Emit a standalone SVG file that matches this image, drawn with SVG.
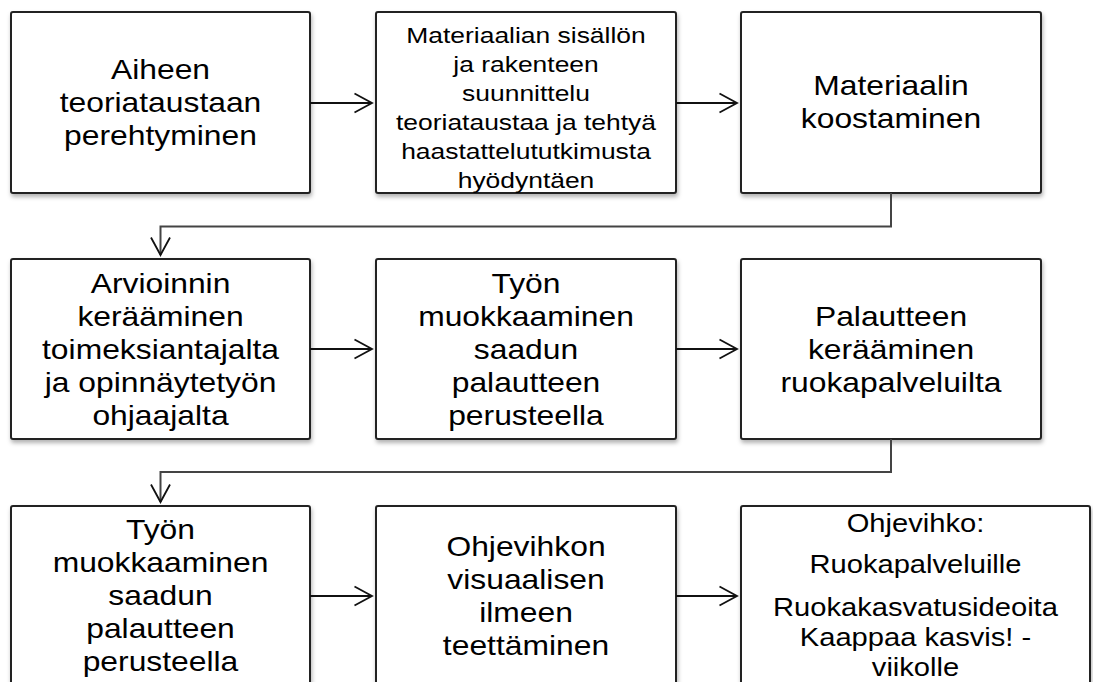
<svg xmlns="http://www.w3.org/2000/svg" width="1093" height="682" viewBox="0 0 1093 682">
<defs>
<filter id="sh" x="-5%" y="-5%" width="115%" height="120%">
<feDropShadow dx="1" dy="3" stdDeviation="2.2" flood-color="#000" flood-opacity="0.3"/>
</filter>
<marker id="arr" markerUnits="userSpaceOnUse" markerWidth="22" markerHeight="24" refX="19" refY="11" orient="auto">
<path d="M1.5,1.5 L19,11 L1.5,20.5" fill="none" stroke="#111" stroke-width="1.8"/>
</marker>
</defs>
<style>
.box{fill:#fff;stroke:#222;stroke-width:2;filter:url(#sh)}
.t{font-family:"Liberation Sans",Arial,sans-serif;font-size:27.2px;fill:#000;text-anchor:middle}
.s{font-size:22.6px}
.m{font-size:24.9px}
.c{fill:none;stroke:#111;stroke-width:1.8}
.g{fill:none;stroke:#444;stroke-width:2}
</style>
<rect width="1093" height="682" fill="#fff"/>
<g id="n1"><rect class="box" x="11" y="12" width="299" height="181" rx="2"/>
<text class="t" transform="translate(160.5 0) scale(1.17 1)"><tspan x="0" y="79.5">Aiheen</tspan><tspan x="0" y="112.5">teoriataustaan</tspan><tspan x="0" y="145.5">perehtyminen</tspan></text></g>
<g id="n2"><rect class="box" x="376" y="12" width="300" height="181" rx="2"/>
<text class="t s" transform="translate(526 0) scale(1.17 1)"><tspan x="0" y="43">Materiaalian sisällön</tspan><tspan x="0" y="72">ja rakenteen</tspan><tspan x="0" y="101">suunnittelu</tspan><tspan x="0" y="130">teoriataustaa ja tehtyä</tspan><tspan x="0" y="159">haastattelututkimusta</tspan><tspan x="0" y="188">hyödyntäen</tspan></text></g>
<g id="n3"><rect class="box" x="741" y="12" width="300" height="181" rx="2"/>
<text class="t" transform="translate(891 0) scale(1.17 1)"><tspan x="0" y="95.5">Materiaalin</tspan><tspan x="0" y="128.5">koostaminen</tspan></text></g>
<g id="n4"><rect class="box" x="11" y="259" width="299" height="180" rx="2"/>
<text class="t" transform="translate(160.5 0) scale(1.17 1)"><tspan x="0" y="293">Arvioinnin</tspan><tspan x="0" y="326">kerääminen</tspan><tspan x="0" y="359">toimeksiantajalta</tspan><tspan x="0" y="392">ja opinnäytetyön</tspan><tspan x="0" y="425">ohjaajalta</tspan></text></g>
<g id="n5"><rect class="box" x="376" y="259" width="300" height="180" rx="2"/>
<text class="t" transform="translate(526 0) scale(1.17 1)"><tspan x="0" y="293">Työn</tspan><tspan x="0" y="326">muokkaaminen</tspan><tspan x="0" y="359">saadun</tspan><tspan x="0" y="392">palautteen</tspan><tspan x="0" y="425">perusteella</tspan></text></g>
<g id="n6"><rect class="box" x="741" y="259" width="300" height="180" rx="2"/>
<text class="t" transform="translate(891 0) scale(1.17 1)"><tspan x="0" y="326">Palautteen</tspan><tspan x="0" y="359">kerääminen</tspan><tspan x="0" y="392">ruokapalveluilta</tspan></text></g>
<g id="n7"><rect class="box" x="11" y="506" width="299" height="182" rx="2"/>
<text class="t" transform="translate(160.5 0) scale(1.17 1)"><tspan x="0" y="539.5">Työn</tspan><tspan x="0" y="572.5">muokkaaminen</tspan><tspan x="0" y="605.5">saadun</tspan><tspan x="0" y="638.5">palautteen</tspan><tspan x="0" y="671.5">perusteella</tspan></text></g>
<g id="n8"><rect class="box" x="376" y="506" width="300" height="182" rx="2"/>
<text class="t" transform="translate(526 0) scale(1.17 1)"><tspan x="0" y="556">Ohjevihkon</tspan><tspan x="0" y="589">visuaalisen</tspan><tspan x="0" y="622">ilmeen</tspan><tspan x="0" y="655">teettäminen</tspan></text></g>
<g id="n9"><rect class="box" x="741" y="506" width="349" height="182" rx="2"/>
<text class="t m" transform="translate(915.5 0) scale(1.17 1)"><tspan x="0" y="532">Ohjevihko:</tspan><tspan x="0" y="573">Ruokapalveluille</tspan><tspan x="0" y="616.5">Ruokakasvatusideoita</tspan><tspan x="0" y="646.5">Kaappaa kasvis! -</tspan><tspan x="0" y="676.5">viikolle</tspan></text></g>
<g id="connectors">
<line class="c" x1="310" y1="103" x2="372" y2="103" marker-end="url(#arr)"/>
<line class="c" x1="676" y1="103" x2="737" y2="103" marker-end="url(#arr)"/>
<line class="c" x1="310" y1="349" x2="372" y2="349" marker-end="url(#arr)"/>
<line class="c" x1="676" y1="349" x2="737" y2="349" marker-end="url(#arr)"/>
<line class="c" x1="310" y1="596" x2="372" y2="596" marker-end="url(#arr)"/>
<line class="c" x1="676" y1="596" x2="737" y2="596" marker-end="url(#arr)"/>
<polyline class="g" points="891,193 891,226.5 160.5,226.5 160.5,255" marker-end="url(#arr)"/>
<polyline class="g" points="891,439 891,472 160.5,472 160.5,502" marker-end="url(#arr)"/>
</g>
</svg>
